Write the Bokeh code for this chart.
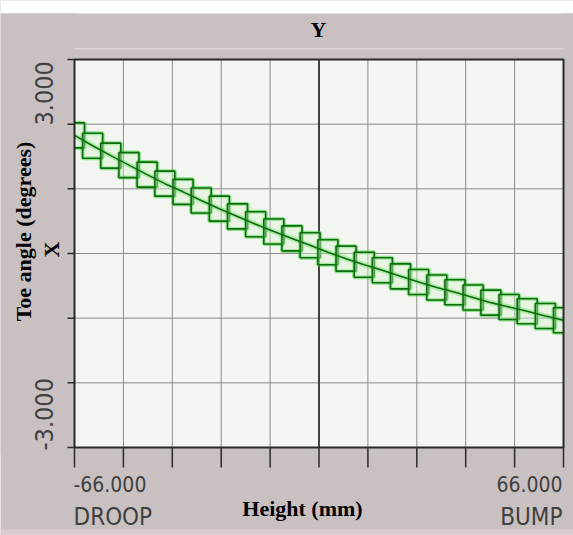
import math
from bokeh.plotting import figure
from bokeh.models import Range1d, Label, ColumnDataSource
from bokeh.embed import file_html
from bokeh.resources import INLINE

# ---- data ----
height_mm = [-66.0, -61.1, -56.2, -51.3, -46.4, -41.6, -36.7, -31.8, -26.9, -22.0,
             -17.1, -12.2, -7.3, -2.4, 2.4, 7.3, 12.2, 17.1, 22.0, 26.9,
             31.8, 36.7, 41.6, 46.4, 51.3, 56.2, 61.1, 66.0]
toe_deg = [2.74, 2.50, 2.27, 2.05, 1.83, 1.62, 1.43, 1.23, 1.04, 0.86,
           0.68, 0.51, 0.35, 0.19, 0.03, -0.12, -0.26, -0.39, -0.53, -0.66,
           -0.79, -0.90, -1.02, -1.14, -1.24, -1.34, -1.45, -1.55]

x_ticks = [-66.0, -52.8, -39.6, -26.4, -13.2, 0.0, 13.2, 26.4, 39.6, 52.8, 66.0]
y_ticks = [-4.5, -3.0, -1.5, 0.0, 1.5, 3.0, 4.5]
x_tick_labels = ["-66.000", "66.000"]
x_end_labels = ["DROOP", "BUMP"]
y_tick_labels = ["-3.000", "3.000"]
title_text = "Y"
x_title = "Height (mm)"
y_title = "Toe angle (degrees)"
y_sub = "X"

# ---- styling / layout ----
W, H = 573, 535
FL, FR, FT, FB = 74, 563, 59, 447          # inner plot box in canvas pixels
TOP_WHITE = 13                             # white strip above the panel
BG = "#c9c1c1"
PLOT_BG = "#f3f5f1"
DARK = "#2a2a2a"
SERIF = "Liberation Serif"
COND = "DejaVu Sans Condensed"
TICK_TXT = "#404040"
BASE_SHIFT = 0.4                           # rendered baseline sits ~0.4 em below anchor

x0, x1 = x_ticks[0], x_ticks[-1]
y0, y1 = y_ticks[0], y_ticks[-1]
sx = (FR - FL) / (x1 - x0)     # px per unit
sy = (FB - FT) / (y1 - y0)
xr = Range1d(x0 - FL / sx, x1 + (W - FR) / sx)
yr = Range1d(y0 - (H - FB) / sy, y1 + FT / sy)

def ypx(px):  # canvas pixel row -> data y (for placing texts)
    return y1 + (FT - px) / sy

def xpx(px):
    return x0 + (px - FL) / sx

p = figure(width=W, height=H, output_backend="svg", toolbar_location=None,
           x_range=xr, y_range=yr, x_axis_location=None, y_axis_location=None,
           min_border=0)
p.border_fill_color = BG
p.background_fill_color = BG
p.outline_line_color = None
p.grid.visible = False

# white strip at the very top, light band at the bottom, bevel above the frame
p.quad(left=[xr.start], right=[xr.end], bottom=[ypx(TOP_WHITE)], top=[yr.end],
       fill_color="#ffffff", line_color=None)
p.quad(left=[xr.start], right=[xr.end], bottom=[yr.start], top=[ypx(529)],
       fill_color="#d9cdcf", line_color=None)
p.segment(x0=[xpx(64)], x1=[xpx(570)], y0=[ypx(49)], y1=[ypx(49)],
          line_color="#dcd6d6", line_width=3)
p.segment(x0=[xpx(569)], x1=[xpx(569)], y0=[ypx(49)], y1=[ypx(452)],
          line_color="#d6d0d0", line_width=3)

# inner plot background
p.quad(left=[x0], right=[x1], bottom=[y0], top=[y1], fill_color=PLOT_BG, line_color=None)

# grid
p.segment(x0=x_ticks, x1=x_ticks, y0=[y0] * len(x_ticks), y1=[y1] * len(x_ticks),
          line_color="#8a8a8a", line_width=1)
p.segment(x0=[x0] * len(y_ticks), x1=[x1] * len(y_ticks), y0=y_ticks, y1=y_ticks,
          line_color="#8a8a8a", line_width=1)
mid = x_ticks[len(x_ticks) // 2]
p.segment(x0=[mid], x1=[mid], y0=[y0], y1=[y1], line_color="#1a1a1a", line_width=1.5)

# data
src = ColumnDataSource(dict(x=height_mm, y=toe_deg))
p.line("x", "y", source=src, line_color="#33d433", line_width=5, line_alpha=0.5)
p.rect("x", "y", width=20, height=25, width_units="screen", height_units="screen",
       source=src, fill_color=None, line_color="#33d433", line_width=4, line_alpha=0.55)
p.rect("x", "y", width=20, height=25, width_units="screen", height_units="screen",
       source=src, fill_color="#d6f3cc", fill_alpha=0.4, line_color="#0e6a0e", line_width=1.6)
p.line("x", "y", source=src, line_color="#0e6a0e", line_width=1.6)

# border bands (clip the data to the plot box)
p.quad(left=[xr.start, x1, x0, x0], right=[x0, xr.end, x1, x1],
       bottom=[ypx(452), ypx(452), y1, ypx(452)], top=[ypx(TOP_WHITE), ypx(TOP_WHITE), ypx(49), y0],
       fill_color=BG, line_color=None)

# outline and ticks
p.quad(left=[x0], right=[x1], bottom=[y0], top=[y1], fill_color=None,
       line_color=DARK, line_width=2)
p.segment(x0=x_ticks, x1=x_ticks, y0=[y0] * len(x_ticks), y1=[y0 - 20 / sy] * len(x_ticks),
          line_color=DARK, line_width=1.5)
p.segment(x0=[x0] * len(y_ticks), x1=[x0 - 7 / sx] * len(y_ticks), y0=y_ticks, y1=y_ticks,
          line_color=DARK, line_width=1.5)

# ---- texts (positions given as the wanted baseline, in canvas pixels) ----
def lab(text, bx, by, size, font, bold=False, align="center", vertical=False, color="#000000"):
    if vertical:
        bx -= BASE_SHIFT * size
    else:
        by -= BASE_SHIFT * size
    p.add_layout(Label(x=xpx(bx), y=ypx(by), text=text, text_font=font,
                       text_font_size=f"{size}px",
                       text_font_style="bold" if bold else "normal", text_align=align,
                       text_baseline="alphabetic", angle=math.pi / 2 if vertical else 0.0,
                       text_color=color))

lab(title_text, 318, 38, 22, SERIF, bold=True)
lab(x_title, 302, 517, 22, SERIF, bold=True)
lab(y_title, 32, 231, 22, SERIF, bold=True, vertical=True)
lab(y_sub, 60, 249, 22, SERIF, bold=True, vertical=True)

lab(x_tick_labels[0], 73, 492, 21, COND, align="left", color=TICK_TXT)
lab(x_tick_labels[1], 562, 492, 21, COND, align="right", color=TICK_TXT)
lab(x_end_labels[0], 73, 526, 24, COND, align="left", color=TICK_TXT)
lab(x_end_labels[1], 562, 526, 24, COND, align="right", color=TICK_TXT)
lab(y_tick_labels[1], 53, 125, 25, COND, align="left", vertical=True, color=TICK_TXT)
lab(y_tick_labels[0], 53, 450, 25, COND, align="left", vertical=True, color=TICK_TXT)

open("out.html", "w").write(file_html(p, INLINE))
